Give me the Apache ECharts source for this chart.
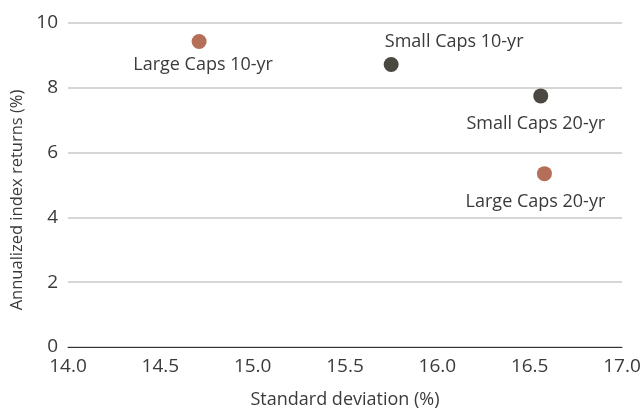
<!DOCTYPE html>
<html>
<head>
<meta charset="utf-8">
<script src="https://cdn.jsdelivr.net/npm/echarts@6/dist/echarts.min.js"></script>
<style>
  html, body { margin: 0; padding: 0; background: #fff; }
  #chart { width: 644px; height: 414px; }
</style>
</head>
<body>
<div id="chart"></div>
<script>
// data
const names = ['Large Caps 10-yr', 'Small Caps 10-yr', 'Small Caps 20-yr', 'Large Caps 20-yr']
const groups = ['large', 'small', 'small', 'large']
const stdDev = [14.71, 15.75, 16.56, 16.58] // x, %
const returns = [9.43, 8.72, 7.75, 5.35] // y, %

const colors = { large: '#b56f58', small: '#4b4842' }
// label placement per point (layout only)
const labelPos = {
  'Large Caps 10-yr': { position: 'bottom', distance: 7, offset: [4, 0] },
  'Small Caps 10-yr': { position: 'top', distance: 6, offset: [63, 0] },
  'Small Caps 20-yr': { position: 'bottom', distance: 11, offset: [-5, 0] },
  'Large Caps 20-yr': { position: 'bottom', distance: 12, offset: [-9, 0] }
}

const font = '"Open Sans", "Noto Sans", sans-serif'
const textColor = '#3a3a3a'

function buildSeries(group) {
  const data = []
  names.forEach((n, i) => {
    if (groups[i] !== group) return
    data.push({
      name: n,
      value: [stdDev[i], returns[i]],
      label: Object.assign({ show: true, formatter: '{b}' }, labelPos[n])
    })
  })
  return {
    type: 'scatter',
    symbolSize: 15,
    itemStyle: { color: colors[group], opacity: 1 },
    label: { color: textColor, fontSize: 18, fontFamily: font },
    data: data
  }
}

const myChart = echarts.init(document.getElementById('chart'))
const option = {
  animation: false,
  grid: { left: 68, right: 22, top: 23, bottom: 64 },
  xAxis: {
    type: 'value',
    min: 14,
    max: 17,
    interval: 0.5,
    name: 'Standard deviation (%)',
    nameLocation: 'middle',
    nameGap: 44,
    nameTextStyle: { color: textColor, fontSize: 18, fontFamily: font },
    axisLine: { show: true, onZero: false, lineStyle: { color: '#333', width: 1 } },
    axisTick: { show: false },
    splitLine: { show: false },
    axisLabel: {
      color: textColor, fontSize: 19, fontFamily: font, margin: 10,
      formatter: v => v.toFixed(1)
    }
  },
  yAxis: {
    type: 'value',
    min: 0,
    max: 10,
    interval: 2,
    name: 'Annualized index returns (%)',
    nameLocation: 'middle',
    nameGap: 40,
    nameTextStyle: { color: textColor, fontSize: 16.5, fontFamily: font, padding: [0, 30, 0, 0] },
    axisLine: { show: false },
    axisTick: { show: false },
    axisLabel: { color: textColor, fontSize: 19, fontFamily: font, margin: 10 },
    splitLine: { show: true, lineStyle: { color: '#c8c8c8', width: 1.5 } }
  },
  series: [buildSeries('large'), buildSeries('small')]
}
myChart.setOption(option)
</script>
</body>
</html>
